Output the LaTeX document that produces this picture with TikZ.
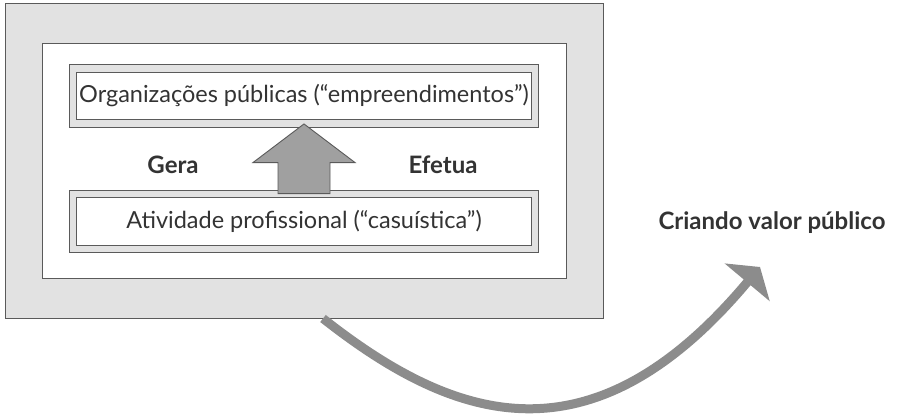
\documentclass[tikz,border=0pt]{standalone}
\usepackage{fontspec}
\setmainfont{Lato}
\usetikzlibrary{positioning,calc,arrows.meta}
\definecolor{panelgray}{HTML}{E2E2E2}
\definecolor{edgegray}{HTML}{5A5A5A}
\definecolor{arrgray}{HTML}{A0A0A0}
\definecolor{curvegray}{HTML}{8C8C8C}
\definecolor{txtgray}{HTML}{333333}
\tikzset{frame/.style={draw=edgegray, fill=panelgray, line width=1pt, minimum width=598pt, minimum height=314pt, inner sep=0pt}}
\tikzset{panel/.style={draw=edgegray, fill=white, line width=1pt, minimum width=524pt, minimum height=234pt, inner sep=0pt}}
\tikzset{tbox/.style={draw=edgegray, double=panelgray, double distance=6.5pt, line width=0.9pt, fill=white, minimum width=462pt, minimum height=55pt, inner sep=0pt, text=txtgray, font=\fontsize{23.5}{28}\selectfont}}
\tikzset{blab/.style={text=txtgray, font=\fontsize{24}{28}\selectfont\bfseries}}
\tikzset{uparr/.style={draw=edgegray, fill=arrgray, line width=0.9pt, line join=miter}}
\tikzset{bigcurve/.style={draw=curvegray, line width=9pt, -{Triangle[length=20pt, width=58pt]}}}

\begin{document}
\begin{tikzpicture}[x=1pt, y=-1pt]
		\useasboundingbox (0,0) rectangle (899,417);
		\node[frame] (outer) at (304,161) {};
		\node[panel] (inner) at (304,161) {};
		\node[tbox] (org) at (304,96) {Organizações públicas (“empreendimentos”)};
		\node[tbox] (act) at (304,221.5) {Atividade profissional (“casuística”)};
		% block arrow between the two boxes
		\draw[uparr] ($(act.north)+(-26,0)$) -- ++(0,-31) -- ++(-25,0)
			-- (org.south) -- ($(act.north)+(51,-31)$) -- ++(-25,0)
			-- ($(act.north)+(26,0)$) -- cycle;
		\node[blab] (gera) at (173,165) {Gera};
		\node[blab] (efetua) at (443,165) {Efetua};
		\node[blab] (valor) at (772,223) {Criando valor público};
		\coordinate (valend) at (760,267);
		\draw[bigcurve] ($(outer.south)+(19,0)$)
			.. controls (452,420) and (590,470) .. (valend);
	\end{tikzpicture}
\end{document}
